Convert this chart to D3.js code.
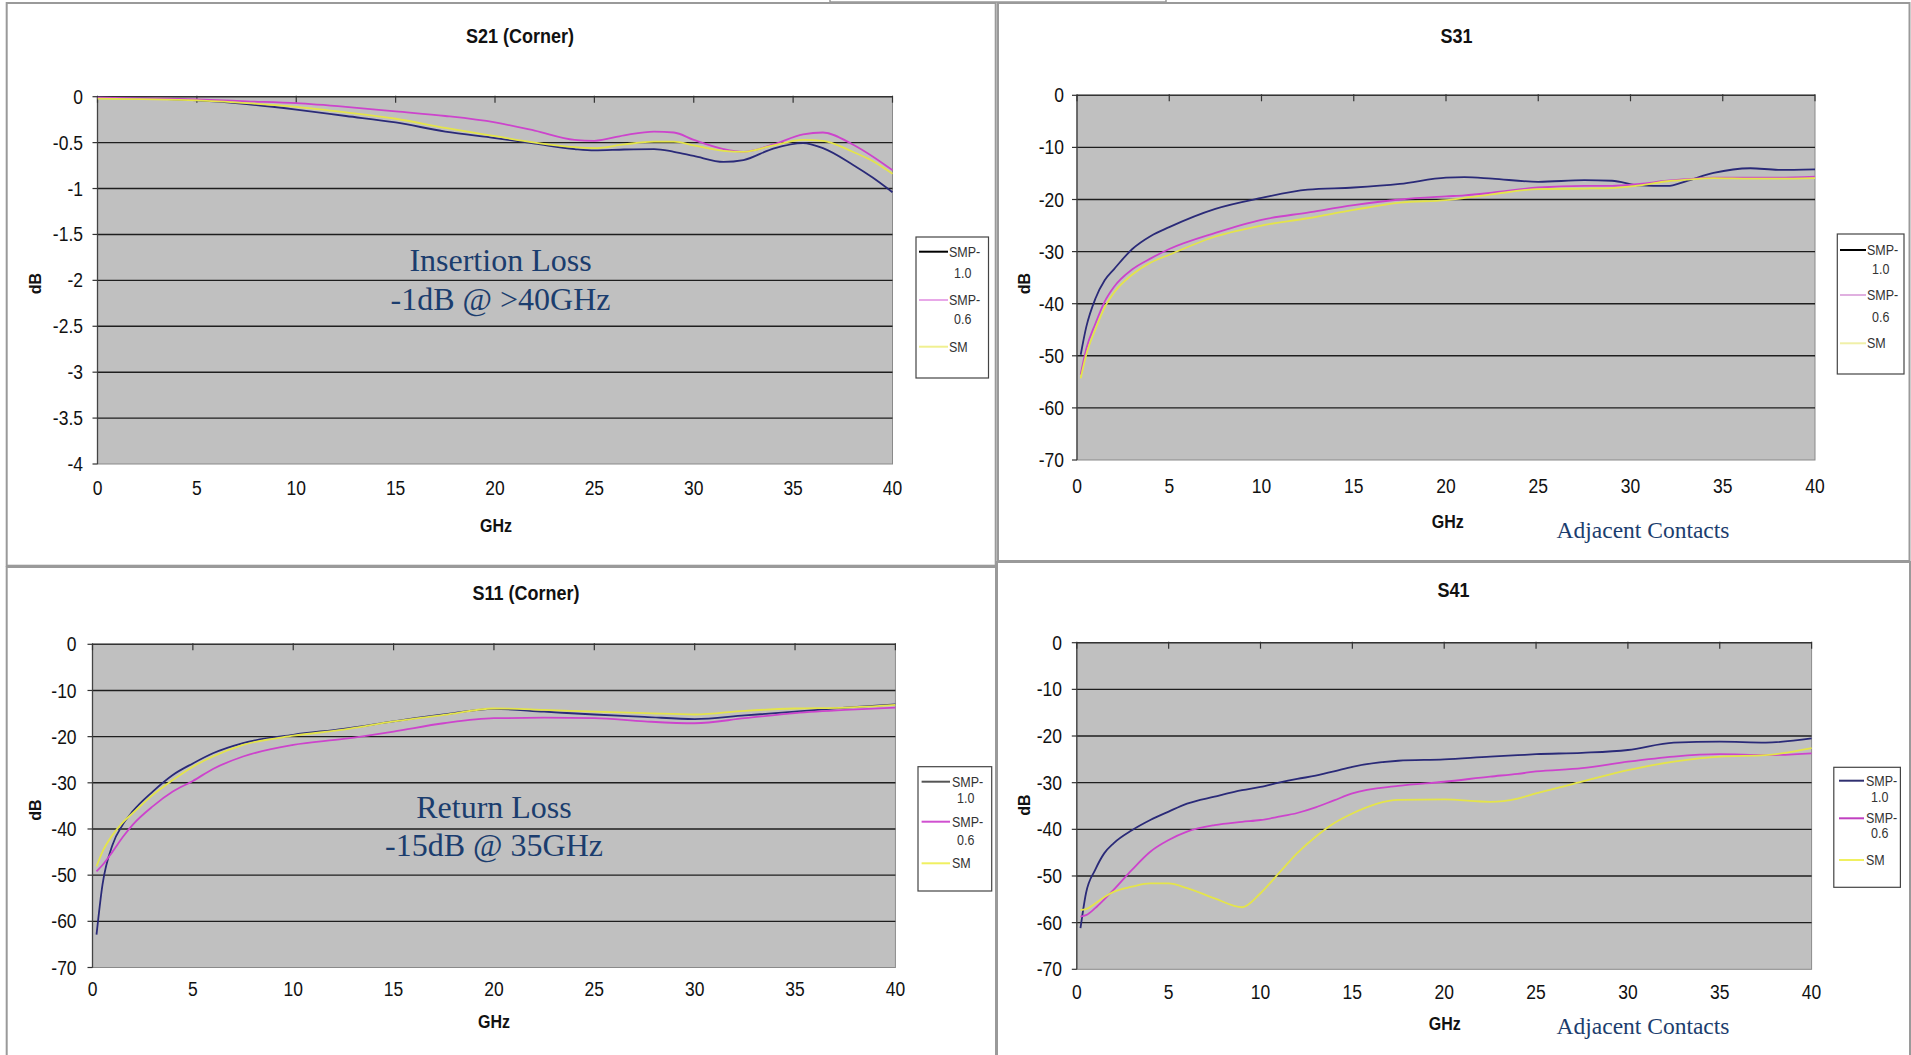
<!DOCTYPE html>
<html lang="en">
<head>
<meta charset="UTF-8">
<title>S-Parameter Plots</title>
<script src="https://d3js.org/d3.v7.min.js"></script>
<style>
  body { margin: 0; background: #fff; }
  svg { display: block; font-family: "Liberation Sans", Arial, sans-serif; }
  .tick-label { font-size: 17.5px; fill: #111; }
  .title { font-size: 18px; font-weight: bold; fill: #111; }
  .axis-title { font-size: 16px; font-weight: bold; fill: #111; }
  .legend-text { font-size: 12.5px; fill: #333; }
  .note { font-family: "Liberation Serif", "Times New Roman", serif; fill: #1b3d6e; }
</style>
</head>
<body>
<svg id="chart" width="1911" height="1055"></svg>
<script>
// ---- data ----
const seriesNames = ["SMP-1.0", "SMP-0.6", "SM"];
const xTicksGhz = [0, 5, 10, 15, 20, 25, 30, 35, 40];
const yTicksS21 = [0, -0.5, -1, -1.5, -2, -2.5, -3, -3.5, -4];
const yTicksDb = [0, -10, -20, -30, -40, -50, -60, -70];

// S21 (Corner)
const s21Ghz = [0, 5, 7.5, 10, 12.5, 15, 17.5, 20, 22, 24, 25, 26.5, 28, 29, 30, 31.5, 32.5, 34, 35.5, 36.5, 38, 39, 40];
const s21Smp10 = [-0.01, -0.04, -0.08, -0.14, -0.21, -0.28, -0.38, -0.45, -0.51, -0.57, -0.585, -0.575, -0.57, -0.6, -0.645, -0.71, -0.69, -0.565, -0.505, -0.56, -0.74, -0.88, -1.04];
const s21Smp06 = [-0.01, -0.03, -0.05, -0.07, -0.11, -0.16, -0.21, -0.28, -0.37, -0.47, -0.48, -0.42, -0.38, -0.39, -0.47, -0.57, -0.6, -0.52, -0.41, -0.39, -0.52, -0.65, -0.8];
const s21Sm = [-0.02, -0.04, -0.07, -0.11, -0.17, -0.24, -0.34, -0.43, -0.5, -0.55, -0.56, -0.52, -0.49, -0.49, -0.53, -0.59, -0.6, -0.53, -0.47, -0.48, -0.6, -0.7, -0.84];

// S31
const s31Ghz = [0.2, 0.5, 1, 1.5, 2, 3, 4, 5, 7.5, 10, 12.5, 15, 17.5, 20, 21, 22.5, 25, 27.5, 29, 30.5, 32, 33, 34.5, 36.5, 38, 40];
const s31Smp10 = [-49.8, -44.5, -39, -35.5, -33.4, -29.5, -27, -25.3, -21.8, -19.7, -18.1, -17.7, -17, -15.8, -15.7, -16, -16.6, -16.3, -16.4, -17.3, -17.4, -16.5, -14.9, -14, -14.3, -14.2];
const s31Smp06 = [-53.6, -48.7, -43.8, -39.6, -36.8, -33.4, -31.3, -29.5, -26.4, -23.9, -22.5, -21.1, -20, -19.4, -19.2, -18.7, -17.7, -17.4, -17.4, -17, -16.4, -16.1, -15.8, -15.8, -15.8, -15.6];
const s31Sm = [-54.3, -49.8, -44.9, -40.7, -37.9, -34.4, -32.1, -30.6, -27.1, -25, -23.6, -22, -20.6, -20.1, -19.7, -19, -18, -17.9, -17.8, -17.3, -16.5, -16.2, -15.9, -16, -16, -15.9];

// S11 (Corner)
const s11Ghz = [0.2, 0.5, 1, 1.5, 2, 3, 4, 5, 6, 7.5, 10, 12.5, 15, 17.5, 20, 22.5, 25, 27.5, 30, 32.5, 35, 37.5, 40];
const s11Smp10 = [-62.9, -52, -43.4, -39.1, -36.2, -31.9, -28.3, -25.8, -23.6, -21.4, -19.6, -18.3, -16.7, -15.2, -14, -14.6, -15.2, -15.7, -16.2, -15.4, -14.6, -13.7, -13];
const s11Smp06 = [-49.2, -47.8, -44.9, -41.8, -39.1, -35.1, -31.9, -29.6, -27, -24.3, -21.8, -20.5, -18.9, -17.1, -16, -15.9, -16, -16.7, -17.1, -16, -14.9, -14.2, -13.7];
const s11Sm = [-48.1, -44.9, -41.3, -38.6, -36.6, -32.6, -29.4, -26.5, -24.3, -21.8, -19.8, -18.5, -16.7, -15.3, -13.9, -14.2, -14.6, -14.9, -15.2, -14.4, -13.9, -13.7, -13.1];

// S41
const s41Ghz = [0.2, 0.5, 1, 1.5, 2, 3, 4, 5, 6, 7.5, 9, 10, 11, 12, 13, 14, 15, 17.5, 20, 22.5, 24, 25, 27.5, 30, 32.5, 35, 37.5, 40];
const s41Smp10 = [-61.2, -53.7, -48.7, -45.1, -43, -40.2, -38, -36.2, -34.5, -33, -31.6, -30.9, -30, -29.2, -28.5, -27.6, -26.6, -25.3, -25, -24.4, -24.1, -23.9, -23.6, -23, -21.4, -21.2, -21.4, -20.5];
const s41Smp06 = [-58.7, -58.4, -56.9, -55, -53, -48.7, -44.8, -42.3, -40.5, -39.1, -38.4, -38, -37.3, -36.5, -35.3, -33.8, -32.3, -30.7, -29.8, -28.7, -28.1, -27.6, -26.9, -25.5, -24.4, -23.9, -24.1, -23.7];
const s41Sm = [-57.3, -57.1, -55.9, -54.5, -53.4, -52.3, -51.6, -51.6, -52.6, -54.8, -56.7, -53.7, -49.4, -45.1, -41.6, -38.7, -36.6, -33.7, -33.6, -34.1, -33.4, -32.3, -29.8, -27.3, -25.5, -24.4, -24.1, -22.6];

const lineColors = ["#2a2a78", "#cc44cc", "#e4e44a"];

const svg = d3.select("#chart");

// small sliver of another box at the very top
svg.append("rect").attr("x", 830).attr("y", -10).attr("width", 336).attr("height", 12)
  .attr("fill", "#fff").attr("stroke", "#999").attr("stroke-width", 1.5);

const panels = [
  {
    title: "S21 (Corner)", ghz: s21Ghz, values: [s21Smp10, s21Smp06, s21Sm], ticks: yTicksS21,
    box: [6.7, 3, 989, 562.7], plot: { l: 97.5, r: 892.5, t: 96.7, b: 464 },
    titlePos: [520, 36.5], labelRight: 83, xLabelY: 488, ghzPos: [496, 525.5], dbPos: [35, 283.6],
    legend: { x: 916, y: 237, w: 72.5, h: 141, lx: [919, 948], tx: 949, rows: [[251.7, 273], [300, 319], [346.7]] },
    legendColors: ["#000", "#e8a8e8", "#f0f090"],
    notes: [["Insertion Loss", 500.5, 270.7, 32], ["-1dB @ >40GHz", 500.5, 310, 32]]
  },
  {
    title: "S31", ghz: s31Ghz, values: [s31Smp10, s31Smp06, s31Sm], ticks: yTicksDb,
    box: [998, 3, 911.5, 558], plot: { l: 1077, r: 1815, t: 95.3, b: 460 },
    titlePos: [1456.5, 36.5], labelRight: 1064, xLabelY: 485.5, ghzPos: [1447.7, 521.8], dbPos: [1024, 283.6],
    legend: { x: 1837.3, y: 234, w: 66.7, h: 140, lx: [1840, 1866], tx: 1867, rows: [[250, 269.3], [295, 316.7], [343.3]] },
    legendColors: ["#000", "#e0b0e0", "#f0f0a8"],
    notes: [["Adjacent Contacts", 1643, 538.3, 23.5]]
  },
  {
    title: "S11 (Corner)", ghz: s11Ghz, values: [s11Smp10, s11Smp06, s11Sm], ticks: yTicksDb,
    box: [6.7, 567, 989.3, 495], plot: { l: 92.5, r: 895.4, t: 644.3, b: 967.5 },
    titlePos: [526, 593.3], labelRight: 76.6, xLabelY: 989, ghzPos: [494, 1021.7], dbPos: [35, 810],
    legend: { x: 918, y: 766.7, w: 73.7, h: 124.3, lx: [921.6, 950], tx: 952, rows: [[781.7, 798.3], [821.7, 840], [863.3]] },
    legendColors: ["#555", "#d050d0", "#f0f060"],
    notes: [["Return Loss", 494, 818, 32], ["-15dB @ 35GHz", 494, 856, 32]]
  },
  {
    title: "S41", ghz: s41Ghz, values: [s41Smp10, s41Smp06, s41Sm], ticks: yTicksDb,
    box: [997, 562, 913, 500], plot: { l: 1076.8, r: 1811.6, t: 642.7, b: 969.3 },
    titlePos: [1453.5, 590], labelRight: 1062, xLabelY: 991.7, ghzPos: [1444.8, 1024.3], dbPos: [1024, 805],
    legend: { x: 1833.8, y: 767.3, w: 66.6, h: 120, lx: [1839, 1864], tx: 1866, rows: [[780.7, 797.3], [818.3, 833], [860]] },
    legendColors: ["#303070", "#c040c0", "#f0f060"],
    notes: [["Adjacent Contacts", 1643, 1034, 23.5]]
  }
];

function stretchedText(g, cls, txt, x, y, anchor, sy) {
  return g.append("text").attr("class", cls)
    .attr("transform", `translate(${x},${y}) scale(1,${sy})`)
    .attr("text-anchor", anchor).attr("dy", "0.35em").text(txt);
}

panels.forEach((p, idx) => {
  const g = svg.append("g");
  const pl = p.plot;

  g.append("rect").attr("x", p.box[0]).attr("y", p.box[1]).attr("width", p.box[2]).attr("height", p.box[3])
    .attr("fill", "#fff").attr("stroke", "#9a9a9a").attr("stroke-width", 2);

  const x = d3.scaleLinear().domain([0, 40]).range([pl.l, pl.r]);
  const yMin = d3.min(p.ticks);
  const y = d3.scaleLinear().domain([yMin, 0]).range([pl.b, pl.t]);

  g.append("rect").attr("x", pl.l).attr("y", pl.t).attr("width", pl.r - pl.l).attr("height", pl.b - pl.t)
    .attr("fill", "#c0c0c0").attr("stroke", "#8a8a8a").attr("stroke-width", 1);

  // horizontal grid lines
  g.selectAll(".grid").data(p.ticks.filter(t => t !== yMin && t !== 0)).join("line")
    .attr("x1", pl.l).attr("x2", pl.r).attr("y1", d => y(d)).attr("y2", d => y(d))
    .attr("stroke", "#1e1e1e").attr("stroke-width", 1.4);

  // y axis with outside ticks
  g.append("line").attr("x1", pl.l).attr("x2", pl.l).attr("y1", pl.t).attr("y2", pl.b)
    .attr("stroke", "#444").attr("stroke-width", 1.3);
  g.selectAll(".ytick").data(p.ticks).join("line")
    .attr("x1", pl.l - 5).attr("x2", pl.l).attr("y1", d => y(d)).attr("y2", d => y(d))
    .attr("stroke", "#333").attr("stroke-width", 1.2);
  p.ticks.forEach(t => stretchedText(g, "tick-label", String(t), p.labelRight, y(t), "end", 1.15));

  // x axis sits at 0 dB (top), labels below the plot
  g.append("line").attr("x1", pl.l).attr("x2", pl.r).attr("y1", y(0)).attr("y2", y(0))
    .attr("stroke", "#333").attr("stroke-width", 1.4);
  g.selectAll(".xtick").data(xTicksGhz).join("line")
    .attr("x1", d => x(d)).attr("x2", d => x(d)).attr("y1", y(0) - 1).attr("y2", y(0) + 6)
    .attr("stroke", "#333").attr("stroke-width", 1.2);
  xTicksGhz.forEach(t => stretchedText(g, "tick-label", String(t), x(t), p.xLabelY, "middle", 1.15));

  // series
  const clipId = "clip" + idx;
  g.append("clipPath").attr("id", clipId).append("rect")
    .attr("x", pl.l).attr("y", pl.t - 2).attr("width", pl.r - pl.l + 2).attr("height", pl.b - pl.t + 4);
  const line = d3.line().x(d => x(d[0])).y(d => y(d[1])).curve(d3.curveMonotoneX);
  p.values.forEach((vals, i) => {
    g.append("path").datum(p.ghz.map((f, k) => [f, vals[k]]))
      .attr("clip-path", `url(#${clipId})`)
      .attr("d", line).attr("fill", "none")
      .attr("stroke", lineColors[i]).attr("stroke-width", 1.8);
  });

  // titles
  stretchedText(g, "title", p.title, p.titlePos[0], p.titlePos[1], "middle", 1.1);
  stretchedText(g, "axis-title", "GHz", p.ghzPos[0], p.ghzPos[1], "middle", 1.1);
  g.append("text").attr("class", "axis-title")
    .attr("transform", `translate(${p.dbPos[0]},${p.dbPos[1]}) rotate(-90)`)
    .attr("text-anchor", "middle").attr("dy", "0.35em").text("dB");

  // legend
  const lg = p.legend;
  g.append("rect").attr("x", lg.x).attr("y", lg.y).attr("width", lg.w).attr("height", lg.h)
    .attr("fill", "#fff").attr("stroke", "#444").attr("stroke-width", 1.2);
  seriesNames.forEach((name, i) => {
    const rows = lg.rows[i];
    g.append("line").attr("x1", lg.lx[0]).attr("x2", lg.lx[1]).attr("y1", rows[0]).attr("y2", rows[0])
      .attr("stroke", p.legendColors[i]).attr("stroke-width", 2);
    const parts = name === "SM" ? ["SM"] : [name.slice(0, 4), name.slice(4)];
    parts.forEach((txt, k) => stretchedText(g, "legend-text", txt, lg.tx + (k ? 5 : 0), rows[k], "start", 1.1));
  });

  // annotations
  p.notes.forEach(n => {
    g.append("text").attr("class", "note").attr("x", n[1]).attr("y", n[2])
      .attr("text-anchor", "middle").style("font-size", n[3] + "px").text(n[0]);
  });
});
</script>
</body>
</html>
